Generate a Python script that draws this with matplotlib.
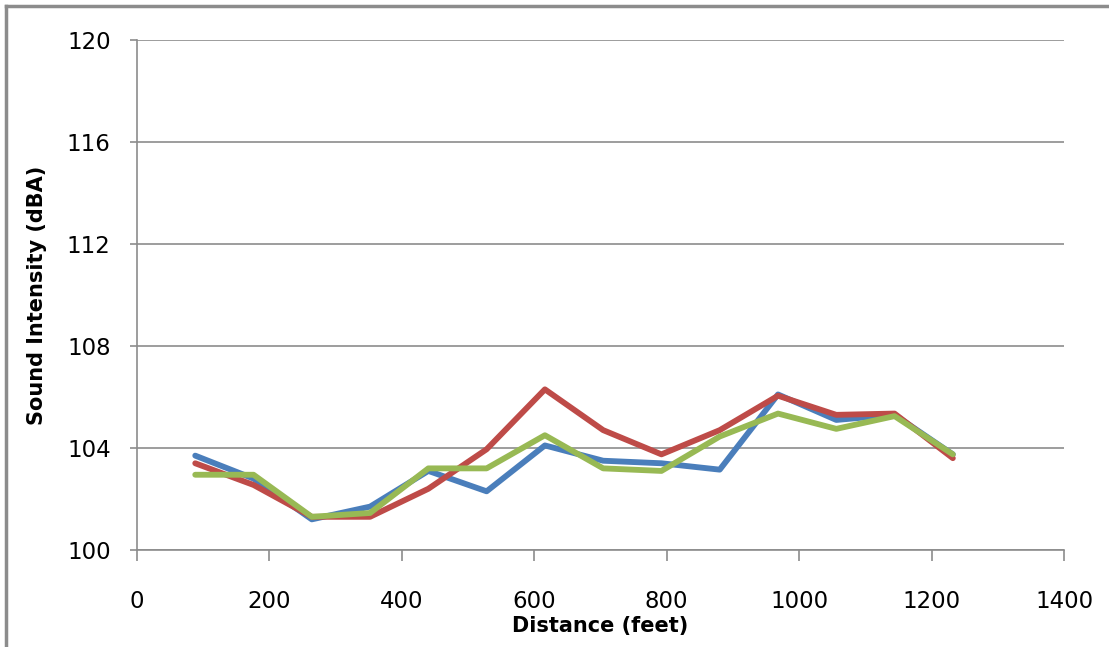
import matplotlib.pyplot as plt
from matplotlib.lines import Line2D

# distance in feet
distance = [88, 176, 264, 352, 440, 528, 616, 704, 792, 880, 968, 1056, 1144, 1232]

# sound intensity in dBA, three runs
blue_run = [103.7, 102.8, 101.2, 101.7, 103.1, 102.3, 104.1, 103.5, 103.4, 103.15, 106.1, 105.1, 105.3, 103.75]
red_run = [103.4, 102.55, 101.3, 101.3, 102.4, 103.95, 106.3, 104.7, 103.75, 104.7, 106.05, 105.3, 105.35, 103.6]
green_run = [102.95, 102.95, 101.3, 101.45, 103.2, 103.2, 104.5, 103.2, 103.1, 104.45, 105.35, 104.75, 105.25, 103.75]

colors = ["#4A7EBB", "#BE4B48", "#98B954"]
grid_color = "#8C8C8C"

fig = plt.figure(figsize=(11.09, 6.47), dpi=100)
ax = fig.add_axes([0.1235, 0.150, 0.836, 0.788])

for y, c in zip([blue_run, red_run, green_run], colors):
    ax.plot(distance, y, color=c, linewidth=4.2, solid_joinstyle="round", solid_capstyle="round")

ax.set_xlim(0, 1400)
ax.set_ylim(100, 120)
ax.set_xticks(range(0, 1401, 200))
ax.set_yticks(range(100, 121, 4))
ax.yaxis.grid(True, color=grid_color, linewidth=1.2)
ax.set_axisbelow(True)

for side in ["top", "right"]:
    ax.spines[side].set_visible(False)
for side in ["left", "bottom"]:
    ax.spines[side].set_color(grid_color)
    ax.spines[side].set_linewidth(1.2)

ax.tick_params(axis="y", length=5, width=1.2, color=grid_color, pad=14, labelsize=16.5)
ax.tick_params(axis="x", length=8, width=1.2, color=grid_color, pad=21, labelsize=16.5)

ax.set_xlabel("Distance (feet)", fontsize=15, fontweight="bold", labelpad=2)
ax.set_ylabel("Sound Intensity (dBA)", fontsize=15, fontweight="bold", labelpad=14)

# outer chart border (top and left edges visible)
fig.add_artist(Line2D([5.5 / 1109, 5.5 / 1109], [0, 1 - 6 / 647], color="#8C8C8C", linewidth=2.5))
fig.add_artist(Line2D([5.5 / 1109, 1], [1 - 6 / 647, 1 - 6 / 647], color="#8C8C8C", linewidth=2.5))

fig.savefig("out.png", dpi=100)
